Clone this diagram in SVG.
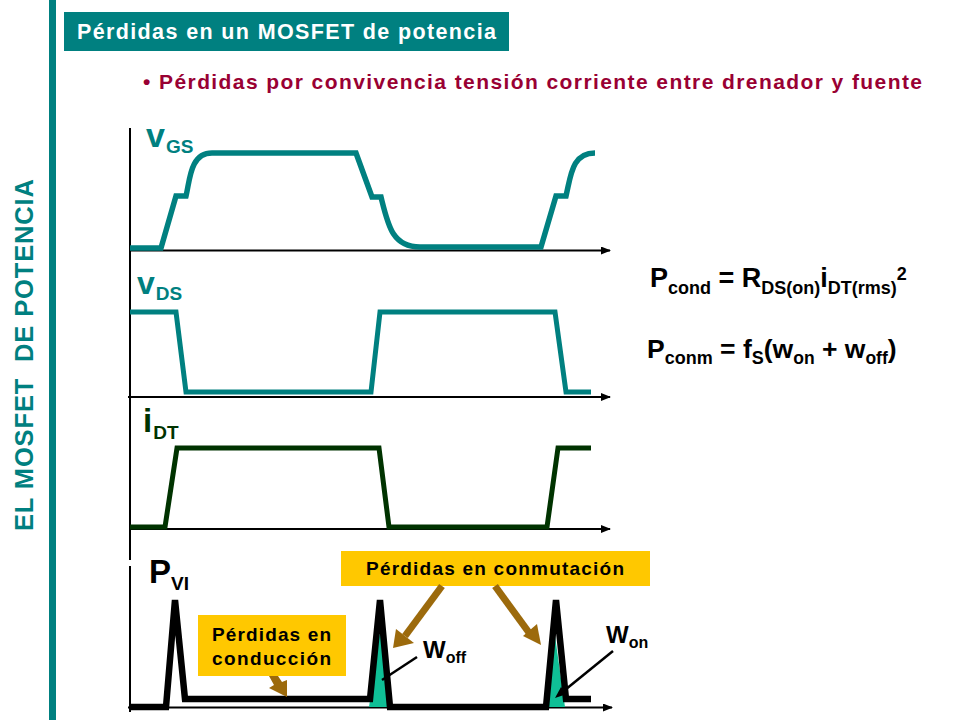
<svg xmlns="http://www.w3.org/2000/svg" width="960" height="720" viewBox="0 0 960 720">
<style>
text{font-family:"Liberation Sans",Arial,sans-serif;font-weight:bold}
.w{fill:none;stroke-width:5;stroke-linejoin:miter}
.t{stroke:#008080}.g{stroke:#003300}.k{stroke:#000;stroke-width:6.500;stroke-miterlimit:2}
.ax{stroke:#000;stroke-width:2;fill:none}
.br{stroke:#9c6a0c;stroke-width:7;fill:none}
</style>
<defs>
<marker id="ah" markerUnits="userSpaceOnUse" markerWidth="10" markerHeight="10" refX="9" refY="4" orient="auto"><path d="M0 0L10 4L0 8Z" fill="#000"/></marker>
</defs>
<rect width="960" height="720" fill="#fff"/>
<g id="sidebar"><rect x="49" y="0" width="7" height="720" fill="#008080"/>
<text transform="translate(33,531) rotate(-90)" font-size="25.500" fill="#008080" textLength="352" xml:space="preserve">EL MOSFET  DE POTENCIA</text></g>
<g id="title"><rect x="64" y="12" width="445" height="39" fill="#008080"/>
<text x="77" y="39" font-size="21.500" fill="#fff" textLength="419">Pérdidas en un MOSFET de potencia</text></g>
<g id="subtitle"><text x="143" y="89" font-size="21" fill="#990033" textLength="779">• Pérdidas por convivencia tensión corriente entre drenador y fuente</text></g>
<g id="connectors">
<path class="ax" d="M130 128V560M130 566V712"/>
<path class="ax" d="M130 250.500H610" marker-end="url(#ah)"/>
<path class="ax" d="M128 397H610" marker-end="url(#ah)"/>
<path class="ax" d="M130 529H610" marker-end="url(#ah)"/>
<path class="ax" d="M128 707.500H612" marker-end="url(#ah)"/>
</g>
<g id="wave-vgs"><path class="w t" style="stroke-width:5.500" d="M130 248H161L176 196H186C190 180 190 153 212 153H356L372 197H381C388 225 392 247 420 247H541L556 196H566C571 175 572 153 595 153"/></g>
<g id="wave-vds"><path class="w t" d="M130 312H176L186 392H371L380 312H555L566 392H591"/></g>
<g id="wave-idt"><path class="w g" d="M130 527H165L177 448H379L389 527H547L558 448H591"/></g>
<g id="loss-fill"><path d="M369 707L380 630L391 707Z" fill="#0fbf96"/><path d="M545 707L555 636L565 707Z" fill="#0fbf96"/></g>
<g id="wave-pvi"><path class="w k" d="M130 707H166L175 600L185 699H370L380 600L390 707H546L556 600L566 699H591"/></g>
<g id="label-vgs"><text x="146" y="147" font-size="34" fill="#008080">v<tspan font-size="19" dy="6" dx="1">GS</tspan></text></g>
<g id="label-vds"><text x="137" y="294" font-size="32" fill="#008080">v<tspan font-size="19" dy="6" dx="1">DS</tspan></text></g>
<g id="label-idt"><text x="143" y="432" font-size="33" fill="#003300">i<tspan font-size="19" dy="7" dx="1">DT</tspan></text></g>
<g id="label-pvi"><text x="149" y="583" font-size="33" fill="#000">P<tspan font-size="19" dy="7">VI</tspan></text></g>
<g id="formula-cond"><text x="650" y="287" font-size="27" fill="#000">P<tspan font-size="18" dy="7">cond</tspan><tspan dy="-7"> = R</tspan><tspan font-size="18" dy="7">DS(on)</tspan><tspan dy="-7">i</tspan><tspan font-size="18" dy="7">DT(rms)</tspan><tspan font-size="18" dy="-14">2</tspan></text></g>
<g id="formula-conm"><text x="647" y="358" font-size="26.500" fill="#000">P<tspan font-size="18" dy="6">conm</tspan><tspan dy="-6"> = f</tspan><tspan font-size="18" dy="6">S</tspan><tspan dy="-6">(w</tspan><tspan font-size="17.500" dy="6">on</tspan><tspan dy="-6"> + w</tspan><tspan font-size="17.500" dy="6">off</tspan><tspan dy="-6">)</tspan></text></g>
<g id="box-conmutacion"><rect x="341" y="551" width="309" height="35" fill="#ffc800"/>
<text x="366" y="575" font-size="19" fill="#000" textLength="258">Pérdidas en conmutación</text></g>
<g id="box-conduccion"><rect x="198" y="615" width="148" height="61" fill="#ffc800"/>
<text x="212" y="641" font-size="19" fill="#000" textLength="119">Pérdidas en</text>
<text x="212" y="665" font-size="19" fill="#000" textLength="119">conducción</text></g>
<g id="arrows">
<path class="br" d="M442 586L405 636"/><path d="M393 648L396 629L414 643Z" fill="#9c6a0c"/>
<path class="br" d="M495 586L530 634"/><path d="M541 645L523 636L537 624Z" fill="#9c6a0c"/>
<path d="M269 676H278L282 682L287 680L287 697L269 688L274 685Z" fill="#9c6a0c"/>
<path d="M417 657L382 680" stroke="#000" stroke-width="2.500"/>
<path d="M613 651L560 694" stroke="#000" stroke-width="2.500"/><path d="M555 698L561 687L567 694Z" fill="#000"/>
</g>
<g id="label-woff"><text x="423" y="658" font-size="24" fill="#000">W<tspan font-size="16" dy="5">off</tspan></text></g>
<g id="label-won"><text x="606" y="643" font-size="24" fill="#000">W<tspan font-size="16" dy="5">on</tspan></text></g>
</svg>
